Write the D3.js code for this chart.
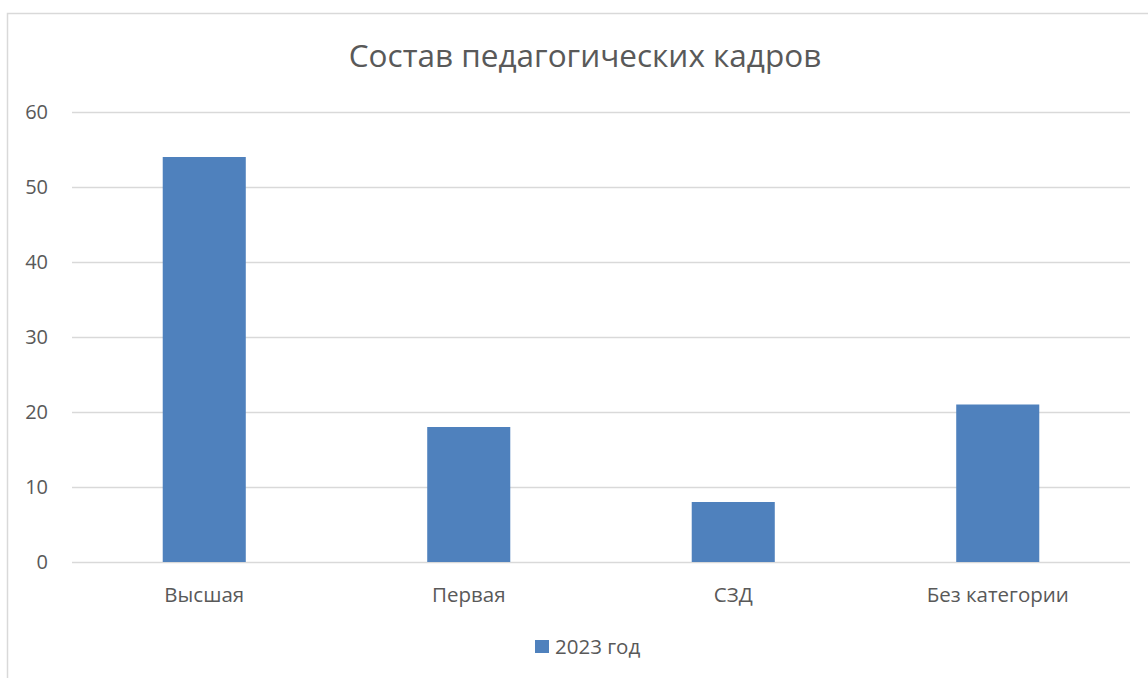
<!DOCTYPE html>
<html>
<head>
	<meta charset="utf-8">
	<title>Состав педагогических кадров</title>
	<style>
		html, body { margin: 0; background: #fff; }
		svg { display: block; font-family: "Open Sans", "Noto Sans", sans-serif; }
	</style>
	<script src="https://cdn.jsdelivr.net/npm/d3@7"></script>
</head>
<body>
	<svg id="svg" width="1148" height="678"></svg>
	<script>
		const categories = ['Высшая', 'Первая', 'СЗД', 'Без категории'];
		const values2023 = [54, 18, 8, 21];
		const yTicks = [0, 10, 20, 30, 40, 50, 60];
		const seriesName = '2023 год';

		const BAR_COLOR = '#4f81bd';
		const TEXT_COLOR = '#595959';
		const GRID_COLOR = '#d9d9d9';
		const LABEL_SIZE = '20.5px';

		const svg = d3.select('#svg');
		const margin = { left: 72, right: 18, top: 112, bottom: 116 };
		const width = 1148, height = 678;

		// chart frame
		svg.append('path')
			.attr('d', `M7.5,${height} V13.5 H${width}`)
			.attr('fill', 'none')
			.attr('stroke', GRID_COLOR)
			.attr('stroke-width', 1.5);

		svg.append('text')
			.attr('x', 585)
			.attr('y', 67)
			.attr('text-anchor', 'middle')
			.attr('fill', TEXT_COLOR)
			.style('font-size', '31.5px')
			.text('Состав педагогических кадров');

		const x = d3.scaleBand()
			.domain(categories)
			.range([margin.left, width - margin.right])
			.paddingInner(0.686)
			.paddingOuter(0.343);

		const y = d3.scaleLinear()
			.domain([0, 60])
			.range([height - margin.bottom, margin.top]);

		// gridlines
		svg.append('g')
			.selectAll('line')
			.data(yTicks)
			.join('line')
			.attr('x1', margin.left)
			.attr('x2', width - margin.right)
			.attr('y1', d => y(d) + 0.5)
			.attr('y2', d => y(d) + 0.5)
			.attr('stroke', GRID_COLOR)
			.attr('stroke-width', 1.5);

		// y axis labels
		svg.append('g')
			.selectAll('text')
			.data(yTicks)
			.join('text')
			.attr('x', 48)
			.attr('y', d => y(d) + 7)
			.attr('text-anchor', 'end')
			.attr('fill', TEXT_COLOR)
			.style('font-size', '20px')
			.text(d => d);

		// bars
		svg.append('g')
			.selectAll('rect')
			.data(values2023)
			.join('rect')
			.attr('x', (d, i) => x(categories[i]))
			.attr('y', d => y(d))
			.attr('width', x.bandwidth())
			.attr('height', d => y(0) - y(d))
			.attr('fill', BAR_COLOR);

		// category labels
		svg.append('g')
			.selectAll('text')
			.data(categories)
			.join('text')
			.attr('x', d => x(d) + x.bandwidth() / 2)
			.attr('y', 602)
			.attr('text-anchor', 'middle')
			.attr('fill', TEXT_COLOR)
			.style('font-size', LABEL_SIZE)
			.text(d => d);

		// legend
		const legend = svg.append('g').attr('transform', 'translate(535,640)');
		legend.append('rect')
			.attr('width', 14)
			.attr('height', 13)
			.attr('fill', BAR_COLOR);
		legend.append('text')
			.attr('x', 20)
			.attr('y', 14)
			.attr('fill', TEXT_COLOR)
			.style('font-size', LABEL_SIZE)
			.text(seriesName);
	</script>
</body>
</html>
